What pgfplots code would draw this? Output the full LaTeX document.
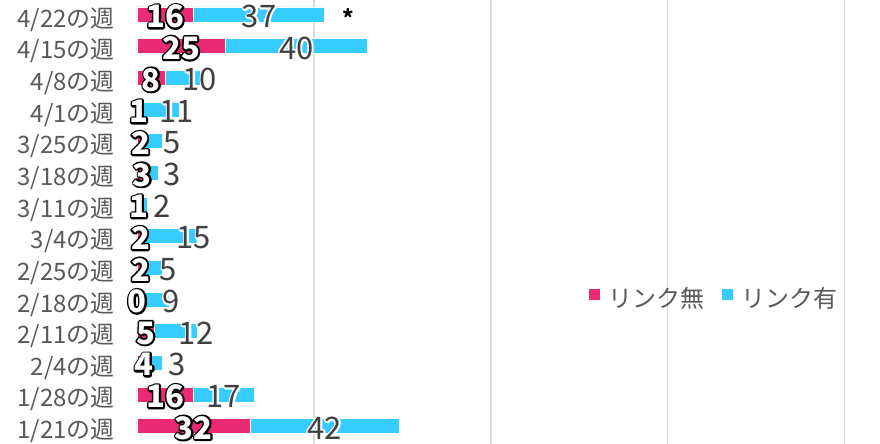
\documentclass[border=0pt]{standalone}
\usepackage{pgfplots}
\pgfplotsset{compat=1.18}
\usepackage{pgfplotstable}
\usepackage{fontspec}
\setmainfont{Noto Sans CJK JP}
\definecolor{pinkc}{HTML}{EB2A74}
\definecolor{cyanc}{HTML}{36CCFF}
\definecolor{labc}{HTML}{595959}
\definecolor{valc}{HTML}{404040}
\definecolor{gridc}{HTML}{D9D9D9}

% stroked text: #1 fill colour, #2 stroke rgb, #3 stroke width (bp), #4 text
\newcommand\strk[4]{{\color{#1}\special{pdf:literal direct #2 RG #3 w 1 j 2 Tr}#4\special{pdf:literal direct 0 Tr}}}
\newcommand\vallab[1]{{\fontsize{31}{31}\selectfont
  \rlap{\strk{white}{1 1 1}{3.6}{#1}}\textcolor{valc}{#1}}}
\newcommand\pinklab[1]{{\fontsize{31}{31}\selectfont\bfseries
  \rlap{\strk{black}{0 0 0}{3.6}{#1}}\textcolor{white}{#1}}}

% y: 0 = 1/21 ... 13 = 4/22
\pgfplotstableread{
y  pink cyan px   cx
0  32   42   16   53
1  16   17   8    24.5
2  4    3    2    11.4
3  5    12   2.5  16.7
4  0    9    0    9.6
5  2    5    1    8.9
6  2    15   1    16.1
7  1    2    0.5  7.0
8  3    3    1.5  9.8
9  2    5    1    9.8
10 1    11   0.5  11.3
11 8    10   4    17.8
12 25   40   12.5 45
13 16   37   8    34.5
}\data

\pgfplotsset{
  base/.style={
    scale only axis, width=743pt, height=444pt,
    xmin=0, xmax=210, ymin=-0.569, ymax=13.458,
    at={(0pt,0pt)}, anchor=south west,
  }
}

\begin{document}
\begin{tikzpicture}
\begin{axis}[base,
  xbar stacked, bar width=0.474,
  axis line style={draw=none},
  xtick={50,100,150,200}, xticklabels={},
  extra x ticks={0}, extra x tick labels={},
  extra x tick style={grid style={draw=gridc!120!black, line width=1.5pt}},
  xmajorgrids, grid style={draw=gridc, line width=1.5pt},
  tick style={draw=none},
  ytick={0,...,13},
  yticklabels={1/21の週,1/28の週,2/4の週,2/11の週,2/18の週,2/25の週,3/4の週,3/11の週,3/18の週,3/25の週,4/1の週,4/8の週,4/15の週,4/22の週},
  yticklabel style={font=\fontsize{24}{24}\selectfont, text=labc, inner sep=0pt, anchor=east, xshift=-22pt, yshift=-5pt},
  legend style={at={(0.607,0.329)}, anchor=west, draw=none, fill=none,
    font=\fontsize{24}{24}\selectfont, text=labc, legend columns=2,
    inner sep=0pt,
    /tikz/every odd column/.append style={column sep=6pt},
    /tikz/every even column/.append style={column sep=14pt}},
  legend image code/.code={\fill[#1] (0pt,-2pt) rectangle (12pt,10pt);},
]
\addplot[fill=pinkc, draw=white, line width=0.5pt] table[x=pink, y=y] {\data};
\addlegendentry{リンク無}
\addplot[fill=cyanc, draw=white, line width=0.5pt] table[x=cyan, y=y] {\data};
\addlegendentry{リンク有}
\end{axis}
\begin{axis}[base, hide axis,
  every node near coord/.append style={inner sep=0pt, yshift=-2pt},
  nodes near coords align={center},
]
\addplot[only marks, mark=*, mark size=0pt, mark options={draw=none, fill=none},
  point meta=explicit symbolic,
  nodes near coords={\vallab{\pgfplotspointmeta}}]
  table[x=cx, y=y, meta=cyan] {\data};
\addplot[only marks, mark=*, mark size=0pt, mark options={draw=none, fill=none},
  point meta=explicit symbolic,
  nodes near coords={\pinklab{\pgfplotspointmeta}}]
  table[x=px, y=y, meta=pink] {\data};
\node[font=\fontsize{22}{22}\selectfont\bfseries, inner sep=0pt, yshift=-3pt] at (axis cs:59.6,13.0) {*};
\end{axis}
\pgfresetboundingbox
\path[use as bounding box] (-137pt,0pt) rectangle (743pt,444pt);
\end{tikzpicture}
\end{document}
